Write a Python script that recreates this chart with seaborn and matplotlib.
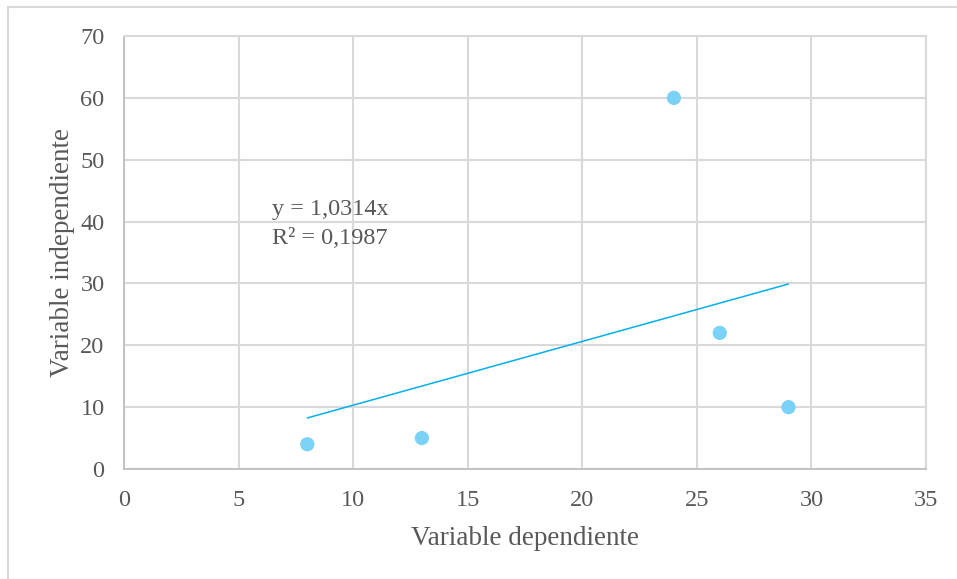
import numpy as np
import pandas as pd
import matplotlib
matplotlib.use("Agg")
import matplotlib.pyplot as plt
import seaborn as sns
from matplotlib.lines import Line2D

# datos
x_vals = [8, 13, 24, 26, 29]
y_vals = [4, 5, 60, 22, 10]
x_ticks = [0, 5, 10, 15, 20, 25, 30, 35]
y_ticks = [0, 10, 20, 30, 40, 50, 60, 70]

df = pd.DataFrame({'x': x_vals, 'y': y_vals})

# linea de tendencia por el origen (como Excel)
xa = np.array(x_vals, dtype=float)
ya = np.array(y_vals, dtype=float)
slope = (xa * ya).sum() / (xa ** 2).sum()
r2_excel = 0.1987
trend = pd.DataFrame({'x': [xa.min(), xa.max()]})
trend['y'] = slope * trend['x']

sns.set_theme(style="white")
plt.rcParams["font.family"] = ["Liberation Serif", "DejaVu Serif"]
txt = '#595959'
grid = '#d9d9d9'

fig = plt.figure(figsize=(9.57, 5.79), dpi=100)
ax = fig.add_axes([124/957, 1-469/579, (926-124)/957, (469-36)/579])

ax.grid(True, color=grid, linewidth=1.5)
ax.set_axisbelow(True)

sns.lineplot(data=trend, x='x', y='y', ax=ax, color='#00b0f0', linewidth=1.1)
sns.scatterplot(data=df, x='x', y='y', ax=ax, color='#7ad2f6', s=105,
                edgecolor='none', zorder=3)

ax.set_xlim(0, 35)
ax.set_ylim(0, 70)
ax.set_xticks(x_ticks)
ax.set_yticks(y_ticks)
ax.tick_params(length=0, labelsize=17.5, labelcolor=txt, pad=14)
ax.tick_params(axis='x', pad=15)

for s in ['top', 'right']:
    ax.spines[s].set_color(grid)
    ax.spines[s].set_linewidth(1.5)
for s in ['left', 'bottom']:
    ax.spines[s].set_color('#bfbfbf')
    ax.spines[s].set_linewidth(1.3)

ax.set_xlabel('Variable dependiente', fontsize=19.5, color=txt, labelpad=11)
ax.set_ylabel('Variable independiente', fontsize=19.5, color=txt, labelpad=4)

ax.text(6.45, 42.0, 'y = {:.4f}x'.format(slope).replace('.', ','),
        fontsize=17.5, color=txt, va='center', ha='left')
ax.text(6.45, 37.3, 'R² = {:.4f}'.format(r2_excel).replace('.', ','),
        fontsize=17.5, color=txt, va='center', ha='left')

# borde del grafico (recortado)
fig.add_artist(Line2D([8/957, 957/957], [1-7/579, 1-7/579], color='#d9d9d9', linewidth=1.5))
fig.add_artist(Line2D([8/957, 8/957], [0, 1-7/579], color='#d9d9d9', linewidth=1.5))

fig.savefig('out.png', dpi=100)
